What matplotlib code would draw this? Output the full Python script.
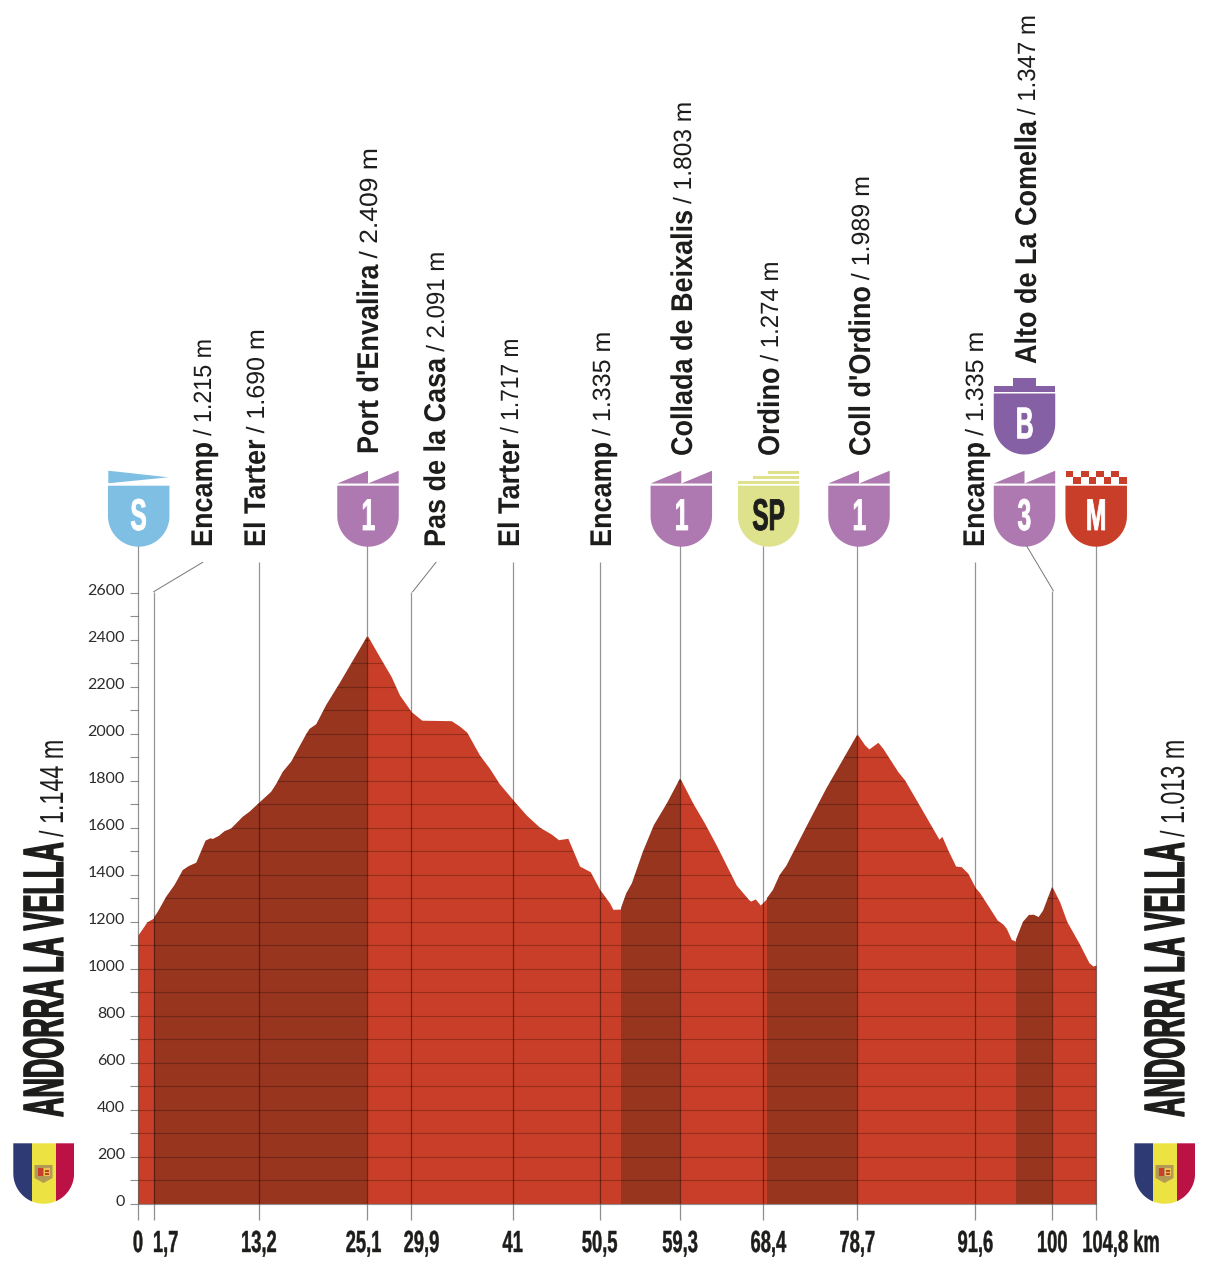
# Stage profile: Andorra la Vella - Andorra la Vella
import numpy as np
import matplotlib
matplotlib.use('Agg')
import matplotlib.pyplot as plt
import matplotlib.patheffects as pe
from matplotlib.patches import Polygon, Rectangle, PathPatch
from matplotlib.path import Path
from matplotlib.text import Text
from matplotlib.transforms import Affine2D, Bbox, ScaledTranslation, blended_transform_factory

# 1. Data
km = [0, 0.96, 1.7, 2.17, 3.09, 3.99, 4.9, 5.56, 6.37, 7.39, 7.93, 8.18, 8.84, 9.46, 10.2, 11.47,
      12.2, 13.2, 14.57, 15.12, 15.84, 16.76, 18.4, 18.76, 19.5, 20.59, 22.05, 23.33, 25.1,
      26.42, 27.7, 28.61, 29.9, 31.05, 34.27, 35.17, 35.97, 37.36, 38.46, 39.55, 40.94, 42.47,
      43.93, 45.21, 46.0, 47.02, 48.3, 49.47, 50.5, 51.59, 51.95, 52.79, 53.41, 54.03, 55.23,
      56.43, 57.86, 59.3, 60.7, 61.98, 63.26, 65.45, 66.79, 67.01, 67.53, 68.07, 68.73, 69.45,
      70.19, 70.92, 73.11, 75.3, 78.7, 79.49, 79.96, 80.94, 81.49, 83.13, 83.86, 85.14, 87.62,
      87.94, 88.6, 89.44, 90.07, 90.79, 91.6, 92.07, 94.0, 94.62, 94.99, 95.54, 95.98, 96.81,
      97.46, 97.98, 98.52, 99.0, 100.0, 100.82, 101.62, 103.0, 104.03, 104.47, 104.8]
elevation = [1144, 1199, 1216, 1243, 1307, 1356, 1420, 1437, 1451, 1545, 1555, 1552, 1565, 1585, 1597, 1647,
             1668, 1704, 1753, 1786, 1838, 1881, 1998, 2020, 2040, 2122, 2214, 2299, 2416,
             2327, 2242, 2164, 2093, 2057, 2055, 2032, 2006, 1909, 1852, 1786, 1722, 1654,
             1602, 1573, 1549, 1555, 1437, 1413, 1338, 1280, 1253, 1254, 1321, 1364, 1498,
             1611, 1704, 1810, 1704, 1619, 1526, 1356, 1295, 1288, 1297, 1271, 1297, 1335,
             1399, 1438, 1604, 1767, 1997, 1952, 1935, 1963, 1937, 1838, 1803, 1718, 1551,
             1563, 1505, 1437, 1434, 1406, 1345, 1324, 1207, 1190, 1172, 1125, 1118, 1200,
             1229, 1230, 1220, 1247, 1349, 1285, 1200, 1105, 1026, 1012, 1016]

climbs = [(1.7, 25.1), (52.8, 59.3), (68.8, 78.7), (96.0, 100.0)]
stop_km = [0, 1.7, 13.2, 25.1, 29.9, 41, 50.5, 59.3, 68.4, 78.7, 91.6, 100, 104.8]
stop_labels = ['0', '1,7', '13,2', '25,1', '29,9', '41', '50,5', '59,3', '68,4', '78,7', '91,6', '100', '104,8 km']

y_ticks = list(range(0, 2700, 100))
y_labels = [str(v) if v % 200 == 0 else '' for v in y_ticks]

names = ['Encamp', 'El Tarter', "Port d'Envalira", 'Pas de la Casa', 'El Tarter', 'Encamp',
         'Collada de Beixalis', 'Ordino', "Coll d'Ordino", 'Encamp', 'Alto de La Comella']
heights = ['/ 1.215 m', '/ 1.690 m', '/ 2.409 m', '/ 2.091 m', '/ 1.717 m', '/ 1.335 m',
           '/ 1.803 m', '/ 1.274 m', '/ 1.989 m', '/ 1.335 m', '/ 1.347 m']

# layout, in picture pixels
label_shift = [0, 12, 0, -4, 10, 0, 0, 0, 5, 0, 0, 0, 25]
stop_top = [546, 592, 562, 546, 592, 562, 562, 546, 546, 546, 562, 591, 546]
name_x = [212, 265, 378, 445, 519, 611, 692, 779, 870, 984, 1036]
name_y = [547, 547, 454, 547, 547, 547, 456, 456, 456, 547, 364]
height_sx = [0.93, 1.0, 1.06, 0.96, 0.91, 1.0, 0.98, 0.96, 1.0, 1.0, 0.96]

# colours
RED = '#c83e28'
DARK = '#98351f'
INK = '#1d1d1b'
GREY = '#8f8f8f'

fig = plt.figure(figsize=(12.09, 12.65), dpi=100)
W, H = 1209, 1265


class Squeeze(pe.AbstractPathEffect):
    # narrows the glyphs along the baseline, there is no condensed display font here
    def __init__(self, sx, center=False, stroke=0):
        super().__init__()
        self.sx = sx
        self.center = center
        self.stroke = stroke

    def draw_path(self, renderer, gc, tpath, affine, rgbFace=None):
        c = 0
        if self.center:
            ext = tpath.get_extents()
            c = (ext.x0 + ext.x1) / 2
        squeeze = Affine2D().translate(-c, 0).scale(self.sx, 1).translate(c, 0)
        gc0 = renderer.new_gc()
        gc0.copy_properties(gc)
        if self.stroke:
            gc0.set_linewidth(self.stroke)
            gc0.set_foreground(rgbFace)
        renderer.draw_path(gc0, tpath, squeeze + affine, rgbFace)
        gc0.restore()


class NarrowText(Text):
    # Text drawn through Squeeze, reporting the extent it really covers
    def __init__(self, x, y, s, sx, center=False, stroke=0, **kw):
        super().__init__(x, y, s, **kw)
        self.sx = sx
        self.center = center
        self.set_path_effects([Squeeze(sx, center, stroke)])

    def get_window_extent(self, renderer=None, dpi=None):
        bb = super().get_window_extent(renderer, dpi)
        x0, y0, x1, y1 = bb.x0, bb.y0, bb.x1, bb.y1
        if self.get_rotation() == 90:
            y1 = y0 + (y1 - y0) * self.sx
        elif self.center:
            c = (x0 + x1) / 2
            x0, x1 = c - (c - x0) * self.sx, c + (x1 - c) * self.sx
        else:
            x1 = x0 + (x1 - x0) * self.sx
        return Bbox.from_extents(x0, y0, x1, y1)


# 2. Main axes, placed so that 0-104.8 km and 0-2600 m fall on the printed scale
left, right, bottom, top = 138, 1096, 1204, 592.5
ax = fig.add_axes([left / W, 1 - bottom / H, (right - left) / W, (bottom - top) / H])
ax.set_xlim(0, 104.8)
ax.set_ylim(0, 2600)
for side in ['top', 'right', 'left']:
    ax.spines[side].set_visible(False)
ax.spines['bottom'].set_color(GREY)
ax.patch.set_visible(False)

profile = ax.fill_between(km, 0, elevation, color=RED, lw=0)
clip = profile.get_paths()[0]

for a, b in climbs:
    span = ax.axvspan(a, b, color=DARK, lw=0)
    span.set_clip_path(clip, transform=ax.transData)

grid = ax.hlines(y_ticks[1:], 0, 104.8, color='black', alpha=0.25, lw=0.8)
grid.set_clip_path(clip, transform=ax.transData)

ax.set_yticks(y_ticks, labels=y_labels)
ax.tick_params(axis='y', length=5.8, width=0.8, color=GREY, pad=3.5, labelcolor='#2b2b2b')
for lab in ax.get_yticklabels():
    lab.set_fontfamily(['Lato', 'DejaVu Sans'])
    lab.set_fontsize(11.5)
    lab.set_transform(lab.get_transform() + ScaledTranslation(0, 3 / 100, fig.dpi_scale_trans))

ax.set_xticks(stop_km, labels=[''] * len(stop_km))
ax.tick_params(axis='x', length=11.5, width=0.9, color=GREY)

# 3. Overlay in picture pixels for badges, leader lines and rotated names
ov = fig.add_axes([0, 0, 1, 1])
ov.set_xlim(0, W)
ov.set_ylim(H, 0)
ov.axis('off')
ov.patch.set_visible(False)
km_px = blended_transform_factory(ax.transData, ov.transData)

NARROW_FONT = ['Liberation Sans', 'DejaVu Sans']


def narrow(x, y, s, sx, center=False, stroke=0, **kw):
    t = NarrowText(x, y, s, sx, center, stroke, family=NARROW_FONT, **kw)
    if 'transform' not in kw:
        t.set_transform(ov.transData)
    ov.add_artist(t)
    return t


for k, t in zip(stop_km, stop_top):
    ov.plot([k, k], [bottom, t], color='black', alpha=0.42, lw=0.9, transform=km_px, solid_capstyle='butt')

# km labels under the axis
for k, s, dx in zip(stop_km, stop_labels, label_shift):
    narrow(k, 1252, s, 0.6, center=True, stroke=0.3, ha='center', va='baseline', fontsize=22,
           fontweight='bold', color=INK,
           transform=km_px + ScaledTranslation(dx / 100, 0, fig.dpi_scale_trans))

# the three bent leaders
ov.plot([153.7, 202.7], [591.7, 562.3], color='#777777', lw=0.7)
ov.plot([412.7, 436], [591.7, 562.3], color='#777777', lw=0.7)
ov.plot([1053.3, 1026.7], [590.7, 546], color='#777777', lw=0.7)


def shield_path(cx, ytop, w=61.5, h=61):
    r = w / 2
    ys = ytop + h - r
    t = np.linspace(0, np.pi, 40)
    xs = np.r_[cx - r, cx + r, cx + r * np.cos(t)]
    yy = np.r_[ytop, ytop, ys + r * np.sin(t)]
    return np.c_[xs, yy]


def badge(cx, ytop, color):
    ov.add_patch(Polygon(shield_path(cx, ytop), closed=True, fc=color, ec='none'))


def letter(cx, base, s, color='white', sx=0.55):
    narrow(cx, base, s, sx, center=True, stroke=0.6, color=color, ha='center', va='baseline',
           fontsize=32, fontweight='bold')


def saw(cx, color, ybase=483.5, ytip=470.7):
    x0, x1 = cx - 30.7, cx + 30.7
    ov.add_patch(Polygon([(x0, ybase), (cx, ytip), (cx, ybase), (x1, ytip), (x1, ybase)], fc=color, ec='none'))


PURPLE = '#ae78b0'
BODY_TOP = 485.7

# start
badge(138.7, BODY_TOP, '#7fbfe3')
ov.add_patch(Polygon([(108.3, 470.7), (168.3, 477.3), (108.3, 483.3)], fc='#7fbfe3', ec='none'))
letter(138.7, 530, 'S')

# categorised climbs
for cx, cat in [(368, '1'), (681.3, '1'), (859, '1'), (1024.5, '3')]:
    badge(cx, BODY_TOP, PURPLE)
    saw(cx, PURPLE)
    letter(cx, 530, cat)

# sprint
badge(768.7, BODY_TOP, '#dfe28d')
for x0, y0, y1 in [(738.3, 480.7, 484.3), (753.3, 476, 479.3), (768.3, 471, 474.3)]:
    ov.add_patch(Rectangle((x0, y0), 799 - x0, y1 - y0, fc='#dfe28d', ec='none'))
letter(768.7, 530, 'SP', INK)

# bonus
BONUS = '#8560a4'
badge(1024.5, 393.5, BONUS)
ov.add_patch(Rectangle((993.8, 386), 61.4, 5.7, fc=BONUS, ec='none'))
ov.add_patch(Rectangle((1013.3, 378.3), 22.7, 7.7, fc=BONUS, ec='none'))
letter(1024.5, 438.3, 'B')

# finish
badge(1096.2, BODY_TOP, RED)
for i in range(8):
    ytop = 470.7 if i % 2 == 0 else 477.4
    ov.add_patch(Rectangle((1065.6 + i * 7.64, ytop), 7.64, 6.7, fc=RED, ec='none'))
letter(1096.2, 530, 'M')


# 4. Andorran flag shields
def flag(x0):
    shape = Path(shield_path(x0 + 30.4, 1143.3, w=60.8, h=60.5))
    clip_patch = PathPatch(shape, transform=ov.transData, fc='none', ec='none')
    ov.add_patch(clip_patch)
    for xa, xb, col in [(0, 19, '#2d3a73'), (19, 42.4, '#ece342'), (42.4, 60.8, '#bb1144')]:
        stripe = Rectangle((x0 + xa, 1143), xb - xa, 62, fc=col, ec='none')
        ov.add_patch(stripe)
        stripe.set_clip_path(clip_patch)
    cx = x0 + 30.2
    ov.add_patch(Polygon([(cx - 9, 1165), (cx + 9, 1165), (cx + 9, 1178), (cx, 1183), (cx - 9, 1178)],
                         fc='#b59a55', ec='none'))
    ov.add_patch(Rectangle((cx - 6, 1168), 5.5, 8, fc='#c8402b', ec='none'))
    ov.add_patch(Rectangle((cx + 0.5, 1168), 5.5, 8, fc='#e3c64a', ec='none'))
    ov.add_patch(Rectangle((cx + 1.5, 1170), 3.5, 1.5, fc='#c8402b', ec='none'))
    ov.add_patch(Rectangle((cx + 1.5, 1173), 3.5, 1.5, fc='#c8402b', ec='none'))


flag(13.3)
flag(1134.3)

# 5. Rotated names with their height
renderer = fig.canvas.get_renderer()
ROT = dict(rotation=90, rotation_mode='anchor', ha='left', va='baseline', color=INK)


def stage_label(x, y, name, height, sx):
    t = narrow(x, y, name, 0.9, fontsize=21.6, fontweight='bold', **ROT)
    length = t.get_window_extent(renderer).height
    narrow(x - 1, y - length - 6, height, sx, fontsize=18, **ROT)


for x, y, name, height, sx in zip(name_x, name_y, names, heights, height_sx):
    stage_label(x, y, name, height, sx)

# start and finish towns
for x, town_height in [(63, '/ 1.144 m'), (1184, '/ 1.013 m')]:
    narrow(x, 1117, 'ANDORRA LA VELLA', 0.473, stroke=0.9, fontsize=41, fontweight='bold', **ROT)
    narrow(x, 837, town_height, 0.7, fontsize=24, **ROT)

fig.savefig('out.png', dpi=100)
